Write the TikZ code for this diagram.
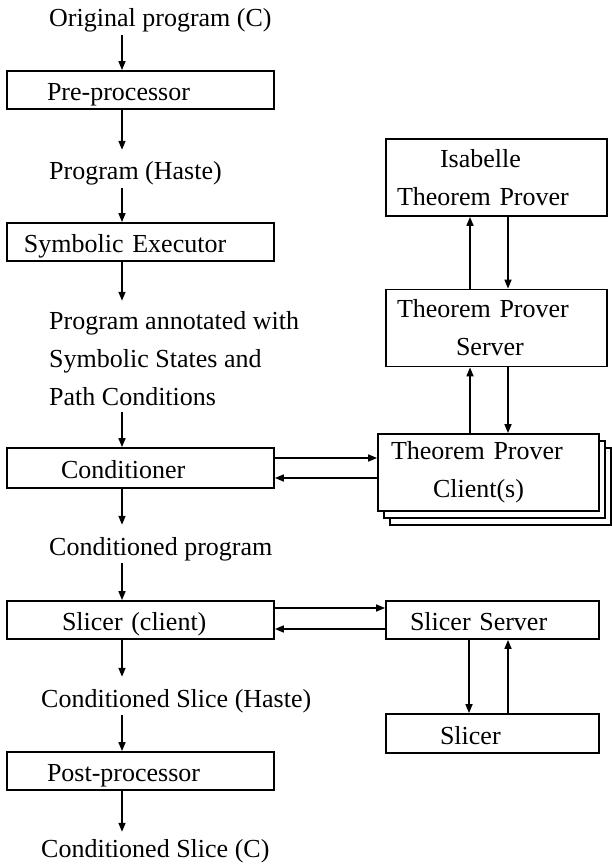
\documentclass[tikz,border=0pt]{standalone}
\usepackage{fontspec}
\setmainfont{Liberation Serif}
\usetikzlibrary{positioning, arrows.meta, calc, shadows}

\begin{document}
\begin{tikzpicture}[
  x=1pt, y=-1pt,
  font=\fontsize{26}{38}\selectfont,
  stage/.style={draw, line width=1.8pt, fill=white, align=left, text width=267pt,
    minimum height=38pt, inner xsep=0pt, inner ysep=0pt, text height=25pt, text depth=4pt},
  srvbox/.style={draw, line width=1.8pt, fill=white, align=left, text width=221pt,
    minimum height=77pt, inner xsep=0pt, inner ysep=0pt},
  artefact/.style={anchor=base west, inner sep=2pt, text height=20pt, text depth=6pt},
  annot/.style={anchor=base west, inner sep=2pt, align=left},
  flow/.style={-{Triangle[length=9pt, width=7pt]}, line width=1.6pt},
  intext/.style={flow, shorten >=8pt}
]
\useasboundingbox (0,0) rectangle (611,866);

% the spine that the pipeline arrows run along
\coordinate (spine) at (122,0);

% left column: the pipeline
\node[artefact] (orig) at (47,27) {Original program (C)};
\node[stage] (pre) at (140.5,90) {\hspace*{40pt}Pre-processor};
\node[artefact] (haste) at (47,180) {Program (Haste)};
\node[stage] (symex) at (140.5,242) {\hspace*{17pt}Symbolic Executor};
\node[annot] (annot) at (47,405)
  {Program annotated with\\Symbolic States and\\Path Conditions};
\node[stage, minimum height=40pt] (cond) at (140.5,468) {\hspace*{54pt}Conditioner};
\node[artefact] (cprog) at (47,555) {Conditioned program};
\node[stage] (slc) at (140.5,620) {\hspace*{55pt}Slicer (client)};
\node[artefact] (cshaste) at (39,707) {Conditioned Slice (Haste)};
\node[stage] (post) at (140.5,771) {\hspace*{40pt}Post-processor};
\node[artefact] (csc) at (39,857) {Conditioned Slice (C)};

\draw[flow] (orig.south -| spine) -- (pre.north -| spine);
\draw[intext] (pre.south -| spine) -- (haste.north -| spine);
\draw[flow] (haste.south -| spine) -- (symex.north -| spine);
\draw[intext] (symex.south -| spine) -- (annot.north -| spine);
\draw[flow, shorten <=5pt] (annot.south -| spine) -- (cond.north -| spine);
\draw[intext] (cond.south -| spine) -- (cprog.north -| spine);
\draw[flow] (cprog.south -| spine) -- (slc.north -| spine);
\draw[intext] (slc.south -| spine) -- (cshaste.north -| spine);
\draw[flow] (cshaste.south -| spine) -- (post.north -| spine);
\draw[flow, shorten >=3pt] (post.south -| spine) -- (csc.north -| spine);

% right column: prover chain
\node[srvbox] (isa) at (496.5,177.5) {\hspace*{54pt}Isabelle\\\hspace*{11pt}Theorem Prover};
\node[srvbox] (tps) at (496.5,328) {\hspace*{11pt}Theorem Prover\\\hspace*{70pt}Server};
\node[srvbox, double copy shadow={shadow xshift=6pt, shadow yshift=-7pt}] (tpc)
  at (488.5,472.5) {\hspace*{13pt}Theorem Prover\\\hspace*{55pt}Client(s)};

\coordinate (isaup) at ([xshift=-26.5pt]tps.north);
\coordinate (isadown) at ([xshift=11.5pt]isa.south);
\draw[flow] (isaup) -- (isaup |- isa.south);
\draw[flow] (isadown) -- (isadown |- tps.north);
\coordinate (tpsup) at ([xshift=-18.5pt]tpc.north);
\coordinate (tpsdown) at ([xshift=11.5pt]tps.south);
\draw[flow] (tpsup) -- (tpsup |- tps.south);
\draw[flow] (tpsdown) -- (tpsdown |- tpc.north);

% conditioner talks to the prover client
\coordinate (condout) at ([yshift=10pt]cond.east);
\coordinate (condin) at ([yshift=-10pt]cond.east);
\draw[flow] (condout) -- (condout -| tpc.west);
\draw[flow] (condin -| tpc.west) -- (condin);

% slicer server
\node[stage, text width=213pt] (ssrv) at (492.5,620) {\hspace*{24pt}Slicer Server};
\node[stage, text width=213pt, minimum height=39pt] (slcr) at (492.5,733.5) {\hspace*{54pt}Slicer};

\coordinate (slcout) at ([yshift=12pt]slc.east);
\coordinate (slcin) at ([yshift=-9pt]slc.east);
\draw[flow] (slcout) -- (slcout -| ssrv.west);
\draw[flow] (slcin -| ssrv.west) -- (slcin);
\coordinate (ssrvdown) at ([xshift=-23.5pt]ssrv.south);
\coordinate (ssrvup) at ([xshift=15.5pt]slcr.north);
\draw[flow] (ssrvdown) -- (ssrvdown |- slcr.north);
\draw[flow] (ssrvup) -- (ssrvup |- ssrv.south);

\end{tikzpicture}
\end{document}
